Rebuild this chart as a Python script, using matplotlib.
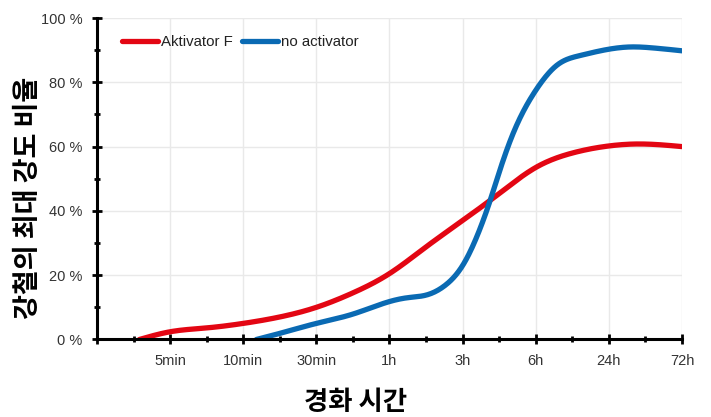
import numpy as np
import matplotlib
matplotlib.use("Agg")
import matplotlib.pyplot as plt
from matplotlib.ticker import MultipleLocator, FixedLocator

# ---- data ----
x_labels = ["", "5min", "10min", "30min", "1h", "3h", "6h", "24h", "72h"]

red_label = "Aktivator F"
red_x = [0.58, 1.0, 1.5, 2.0, 2.5, 3.0, 3.5, 4.0, 4.5, 5.0, 5.5, 6.0, 6.5, 7.0, 7.35, 8.0]
red_y = [0.0, 2.4, 3.6, 5.0, 7.0, 10.0, 14.5, 20.5, 28.8, 37.0, 45.4, 53.5, 58.0, 60.2, 60.8, 60.0]

blue_label = "no activator"
blue_x = [2.18, 2.5, 3.0, 3.5, 4.0, 4.25, 4.5, 4.77, 5.0, 5.23, 5.37, 5.5, 5.68, 6.0, 6.3, 6.6, 7.0, 7.3, 7.6, 8.0]
blue_y = [0.0, 1.9, 5.0, 7.9, 11.8, 13.0, 13.8, 17.0, 23.0, 34.0, 42.8, 52.0, 63.5, 77.5, 85.5, 88.3, 90.3, 91.0, 90.7, 89.8]

y_ticks = [0, 20, 40, 60, 80, 100]


def smooth_line(x, y, n=500):
    """Natural cubic spline rendering of a smoothed line through the points."""
    x = np.asarray(x, float)
    y = np.asarray(y, float)
    N = len(x)
    h = np.diff(x)
    A = np.zeros((N, N))
    b = np.zeros(N)
    A[0, 0] = 1.0
    A[-1, -1] = 1.0
    for i in range(1, N - 1):
        A[i, i - 1] = h[i - 1]
        A[i, i] = 2 * (h[i - 1] + h[i])
        A[i, i + 1] = h[i]
        b[i] = 6 * ((y[i + 1] - y[i]) / h[i] - (y[i] - y[i - 1]) / h[i - 1])
    M = np.linalg.solve(A, b)
    xs = np.linspace(x[0], x[-1], n)
    k = np.clip(np.searchsorted(x, xs) - 1, 0, N - 2)
    t1 = x[k + 1] - xs
    t0 = xs - x[k]
    hk = h[k]
    ys = (M[k] * t1**3 / (6 * hk) + M[k + 1] * t0**3 / (6 * hk)
          + (y[k] / hk - M[k] * hk / 6) * t1 + (y[k + 1] / hk - M[k + 1] * hk / 6) * t0)
    return xs, np.maximum(ys, 0)


fig = plt.figure(figsize=(7.11, 4.17), dpi=100)
ax = fig.add_axes([0.1364, 0.1859, 0.8228, 0.7709])

RED = "#E30613"
BLUE = "#0A6AB3"

rx, ry = smooth_line(red_x, red_y)
bx, by = smooth_line(blue_x, blue_y)
ax.plot(rx, ry, color=RED, lw=3.8, solid_capstyle="round", label=red_label, zorder=3)
ax.plot(bx, by, color=BLUE, lw=3.8, solid_capstyle="round", label=blue_label, zorder=4)

ax.set_xlim(0, 8)
ax.set_ylim(0, 100)

ax.xaxis.set_major_locator(FixedLocator(range(len(x_labels))))
ax.set_xticklabels(x_labels)
ax.xaxis.set_minor_locator(MultipleLocator(0.5))
ax.yaxis.set_major_locator(FixedLocator(y_ticks))
ax.set_yticklabels([f"{v} %" for v in y_ticks])
ax.yaxis.set_minor_locator(MultipleLocator(10))

ax.grid(True, which="major", color="#e9e9e9", lw=1.0, zorder=0)
ax.set_axisbelow(True)

for s in ["top", "right"]:
    ax.spines[s].set_visible(False)
for s in ["left", "bottom"]:
    ax.spines[s].set_linewidth(2.2)
    ax.spines[s].set_color("black")
    ax.spines[s].set_zorder(5)

ax.tick_params(which="major", direction="inout", length=7, width=2, color="black",
               labelsize=10.5, labelcolor="#333333")
ax.tick_params(which="minor", direction="inout", length=4.5, width=2, color="black")
ax.tick_params(axis="x", which="major", pad=7)
ax.tick_params(axis="y", which="major", pad=7)
for lab in ax.get_xticklabels() + ax.get_yticklabels():
    lab.set_fontfamily(["Liberation Sans", "DejaVu Sans"])

ax.set_xlabel("경화 시간", fontsize=19, fontweight="bold",
              fontfamily=["Noto Sans CJK KR", "DejaVu Sans"], va="center")
ax.xaxis.set_label_coords((356 - 97) / 585, (339.5 - 403) / 321.5)
ax.set_ylabel("강철의 최대 강도 비율", fontsize=19.5, fontweight="bold",
              fontfamily=["Noto Sans CJK KR", "DejaVu Sans"], va="center")
ax.yaxis.set_label_coords((28 - 97) / 585, (339.5 - 197.5) / 321.5)

leg = ax.legend(loc="upper left", bbox_to_anchor=(0.02, 0.988), ncol=2, frameon=False,
                handlelength=2.4, handletextpad=0.2, columnspacing=0.6,
                prop={"family": ["Liberation Sans", "DejaVu Sans"], "size": 10.8})
for t in leg.get_texts():
    t.set_color("#222222")

fig.savefig("out.png", dpi=100)
